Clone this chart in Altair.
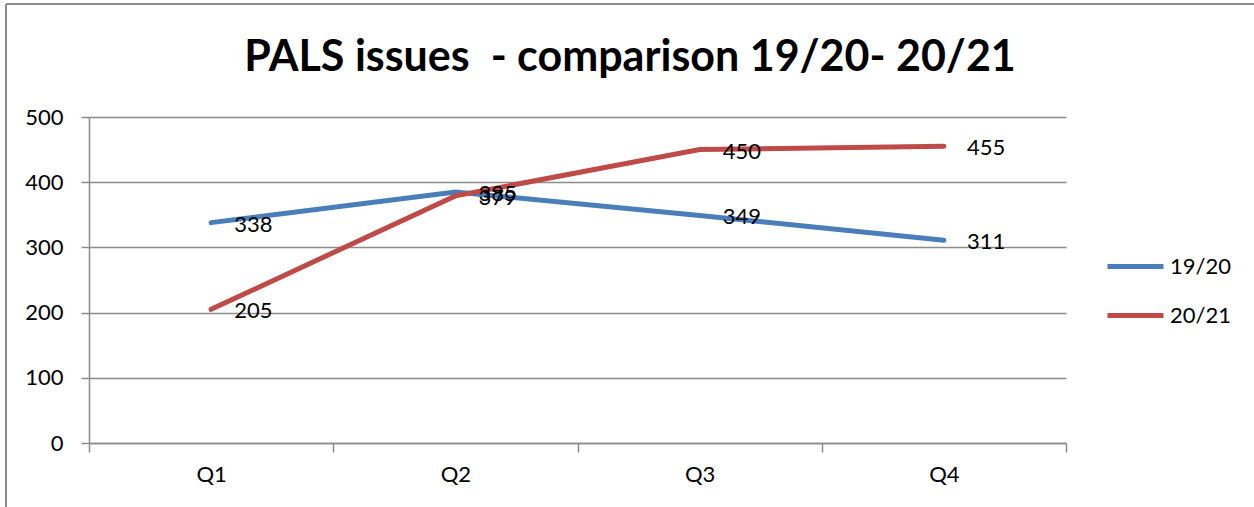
import altair as alt
import pandas as pd

# Quarterly PALS issue counts for two financial years
quarters = ["Q1", "Q2", "Q3", "Q4"]
series_names = ["19/20", "20/21"]
issues_1920 = [338, 385, 349, 311]
issues_2021 = [205, 379, 450, 455]
series_colors = ["#4A7EBB", "#BE4B48"]
y_ticks = [0, 100, 200, 300, 400, 500]
title_text = "PALS issues\u00a0 - comparison 19/20- 20/21"

rows = []
for name, vals in zip(series_names, [issues_1920, issues_2021]):
    for q, v in zip(quarters, vals):
        rows.append({"quarter": q, "series": name, "issues": v})
df = pd.DataFrame(rows)

FONT = "Lato"
GRID = "#8C8C8C"

x = alt.X(
    "quarter:N",
    sort=quarters,
    scale=alt.Scale(type="band", paddingInner=0, paddingOuter=0),
    axis=alt.Axis(
        title=None, labelAngle=0, tickBand="extent", tickSize=9,
        tickColor=GRID, domainColor=GRID, labelFontSize=22, labelFont=FONT,
        labelColor="black", labelPadding=12, grid=False,
    ),
)
y = alt.Y(
    "issues:Q",
    scale=alt.Scale(domain=[0, 500], nice=False),
    axis=alt.Axis(
        title=None, values=y_ticks, tickSize=8, tickColor=GRID,
        domainColor=GRID, gridColor=GRID, grid=True, labelFontSize=22,
        labelFont=FONT, labelColor="black", labelPadding=18,
    ),
)
color = alt.Color(
    "series:N",
    scale=alt.Scale(domain=series_names, range=series_colors),
    legend=alt.Legend(
        title=None, orient="none", legendX=1030, legendY=133,
        symbolType="M-2,0H2", symbolSize=784, symbolStrokeWidth=5,
        labelFontSize=22, labelFont=FONT, labelColor="black",
        labelOffset=18, rowPadding=21, padding=0,
    ),
)

lines = alt.Chart(df).mark_line(strokeWidth=5, strokeCap="round").encode(
    x=x, y=y, color=color
)

labels = alt.Chart(df).mark_text(
    align="left", baseline="middle", dx=23, dy=2,
    fontSize=22, font=FONT, color="black",
).encode(x=x, y=y, text="issues:Q", detail="series:N")

# Frame lines along the left and top of the chart, plus the heading
frame = alt.Chart(alt.Data(values=[{}]))
frame_left = frame.mark_rule(color=GRID, strokeWidth=2).encode(
    x=alt.value(-83), y=alt.value(-113), y2=alt.value(400)
)
frame_top = frame.mark_rule(color=GRID, strokeWidth=2).encode(
    x=alt.value(-83), x2=alt.value(1170), y=alt.value(-113)
)
heading = frame.mark_text(
    align="center", baseline="alphabetic", font=FONT, fontSize=43,
    fontWeight="bold", color="black",
).encode(x=alt.value(541), y=alt.value(-46), text=alt.value(title_text))

chart = (
    alt.layer(frame_left, frame_top, heading, lines, labels)
    .properties(
        width=977,
        height=326,
        autosize=alt.AutoSizeParams(type="none"),
        padding={"left": 89, "top": 117, "right": 188, "bottom": 64},
        background="white",
    )
    .configure_view(stroke="transparent")
    .configure_axis(domainWidth=1.5, tickWidth=1.5, gridWidth=1.5)
)

chart.save("out.html", embed_options={"renderer": "svg", "actions": False})
